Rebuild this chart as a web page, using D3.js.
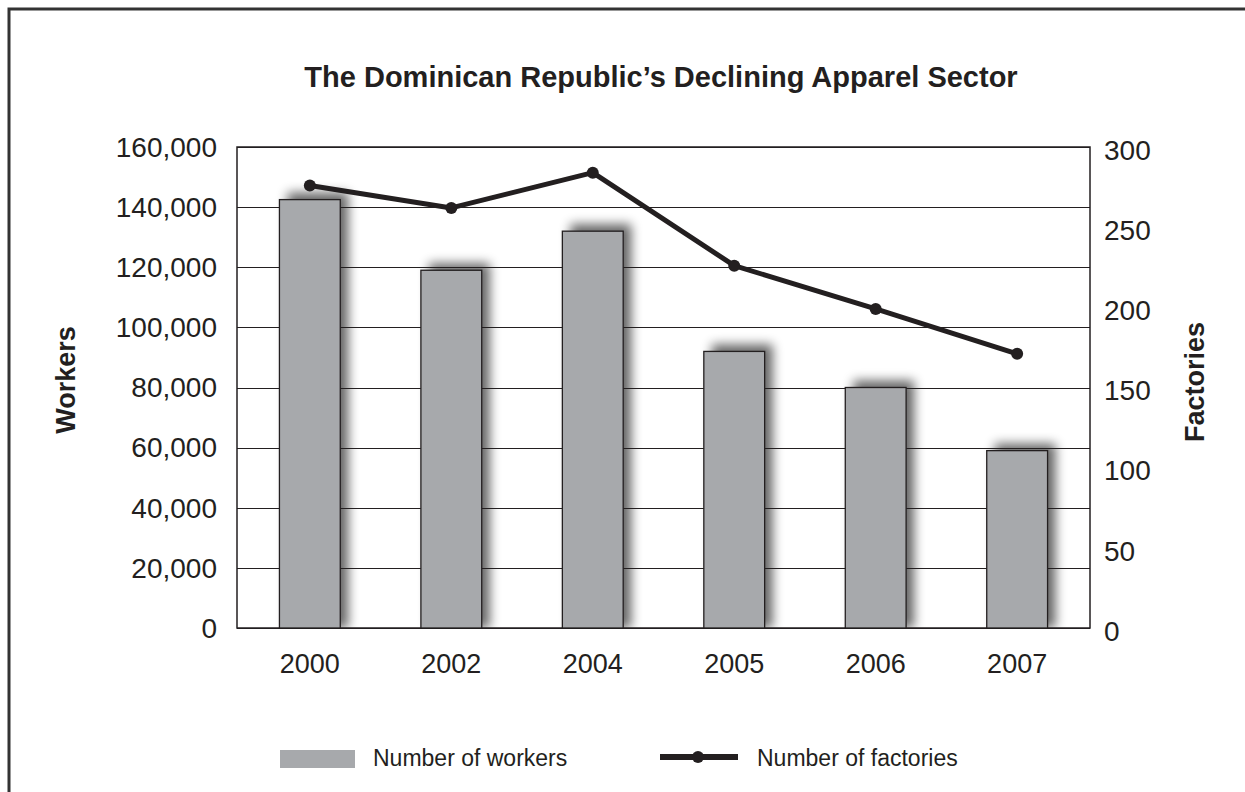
<!DOCTYPE html>
<html>
<head>
<meta charset="utf-8">
<script src="https://cdn.jsdelivr.net/npm/d3@7/dist/d3.min.js"></script>
<style>
  body { margin: 0; background: #fff; }
  text { font-family: "Liberation Sans", Arial, Helvetica, sans-serif; fill: #231f20; }
</style>
</head>
<body>
<div id="chart"></div>
<script>
//Width and height
var w = 1245;
var h = 792;

//Data
var years = ["2000", "2002", "2004", "2005", "2006", "2007"];
var workers = [142500, 119000, 132000, 92000, 80000, 59000];
var factories = [276, 262, 284, 226, 199, 171];
var workerTicks = [0, 20000, 40000, 60000, 80000, 100000, 120000, 140000, 160000];
var factoryTicks = [0, 50, 100, 150, 200, 250, 300];

var title = "The Dominican Republic\u2019s Declining Apparel Sector";

//Plot area
var plotLeft = 237, plotRight = 1090, plotTop = 147, plotBottom = 628;
var dark = "#231f20";
var barFill = "#a7a9ac";

var svg = d3.select("#chart")
    .append("svg")
    .attr("width", w)
    .attr("height", h);

//Scales
var x = d3.scaleBand()
    .domain(years)
    .range([plotLeft, plotRight])
    .paddingInner(0.57)
    .paddingOuter(0.3);

var y = d3.scaleLinear()
    .domain([0, 160000])
    .range([plotBottom, plotTop]);

var y2 = d3.scaleLinear()
    .domain([0, 300])
    .range([plotBottom, plotTop]);

//Shadow filter + clip
var defs = svg.append("defs");
var filter = defs.append("filter")
    .attr("id", "shadow")
    .attr("x", "-50%").attr("y", "-50%")
    .attr("width", "200%").attr("height", "200%");
filter.append("feGaussianBlur")
    .attr("in", "SourceGraphic")
    .attr("stdDeviation", 5.5);

defs.append("clipPath")
    .attr("id", "plotclip")
    .append("rect")
    .attr("x", plotLeft).attr("y", plotTop - 20)
    .attr("width", plotRight - plotLeft).attr("height", plotBottom - plotTop + 20);

//Outer frame (left and top edges only visible)
svg.append("path")
    .attr("d", "M9," + h + " L9,9 L" + w + ",9")
    .attr("fill", "none")
    .attr("stroke", "#333")
    .attr("stroke-width", 3);

//Title
svg.append("text")
    .attr("x", 661)
    .attr("y", 87)
    .attr("text-anchor", "middle")
    .style("font-size", "29px")
    .style("font-weight", "bold")
    .text(title);

//Bar shadows
svg.append("g")
    .attr("clip-path", "url(#plotclip)")
    .selectAll("rect")
    .data(workers)
    .enter()
    .append("rect")
    .attr("x", function(d, i) { return x(years[i]) + 8; })
    .attr("y", function(d) { return y(d) - 7; })
    .attr("width", x.bandwidth())
    .attr("height", function(d) { return plotBottom - y(d) + 7; })
    .attr("fill", "#000")
    .attr("opacity", 0.6)
    .attr("filter", "url(#shadow)");

//Gridlines
svg.append("g")
    .selectAll("line")
    .data(workerTicks)
    .enter()
    .append("line")
    .attr("x1", plotLeft)
    .attr("x2", plotRight)
    .attr("y1", function(d) { return Math.round(y(d)) + 0.5; })
    .attr("y2", function(d) { return Math.round(y(d)) + 0.5; })
    .attr("stroke", dark)
    .attr("stroke-width", 1.2);

//Plot frame
svg.append("rect")
    .attr("x", plotLeft)
    .attr("y", plotTop)
    .attr("width", plotRight - plotLeft)
    .attr("height", plotBottom - plotTop)
    .attr("fill", "none")
    .attr("stroke", dark)
    .attr("stroke-width", 1.5);

//Bars
svg.append("g")
    .selectAll("rect")
    .data(workers)
    .enter()
    .append("rect")
    .attr("x", function(d, i) { return x(years[i]); })
    .attr("y", function(d) { return y(d); })
    .attr("width", x.bandwidth())
    .attr("height", function(d) { return plotBottom - y(d); })
    .attr("fill", barFill)
    .attr("stroke", dark)
    .attr("stroke-width", 1.3);

//Factories line
var line = d3.line()
    .x(function(d, i) { return x(years[i]) + x.bandwidth() / 2; })
    .y(function(d) { return y2(d); });

svg.append("path")
    .datum(factories)
    .attr("d", line)
    .attr("fill", "none")
    .attr("stroke", dark)
    .attr("stroke-width", 5)
    .attr("stroke-linejoin", "round");

svg.append("g")
    .selectAll("circle")
    .data(factories)
    .enter()
    .append("circle")
    .attr("cx", function(d, i) { return x(years[i]) + x.bandwidth() / 2; })
    .attr("cy", function(d) { return y2(d); })
    .attr("r", 6)
    .attr("fill", dark);

//Left axis labels
svg.append("g")
    .selectAll("text")
    .data(workerTicks)
    .enter()
    .append("text")
    .attr("x", 217)
    .attr("y", function(d) { return y(d); })
    .attr("dy", "0.35em")
    .attr("text-anchor", "end")
    .style("font-size", "28px")
    .text(d3.format(","));

//Right axis labels
svg.append("g")
    .selectAll("text")
    .data(factoryTicks)
    .enter()
    .append("text")
    .attr("x", 1104)
    .attr("y", function(d) { return y2(d) + 3; })
    .attr("dy", "0.35em")
    .style("font-size", "28px")
    .text(function(d) { return d; });

//X labels
svg.append("g")
    .selectAll("text")
    .data(years)
    .enter()
    .append("text")
    .attr("x", function(d) { return x(d) + x.bandwidth() / 2; })
    .attr("y", 673)
    .attr("text-anchor", "middle")
    .style("font-size", "27px")
    .text(function(d) { return d; });

//Axis titles
svg.append("text")
    .attr("transform", "translate(75,380) rotate(-90)")
    .attr("text-anchor", "middle")
    .style("font-size", "27px")
    .style("font-weight", "bold")
    .text("Workers");

svg.append("text")
    .attr("transform", "translate(1204,382) rotate(-90)")
    .attr("text-anchor", "middle")
    .style("font-size", "27px")
    .style("font-weight", "bold")
    .text("Factories");

//Legend
var legend = svg.append("g");

legend.append("rect")
    .attr("x", 280)
    .attr("y", 750)
    .attr("width", 75)
    .attr("height", 18)
    .attr("fill", barFill);

legend.append("text")
    .attr("x", 373)
    .attr("y", 766)
    .style("font-size", "23px")
    .text("Number of workers");

legend.append("line")
    .attr("x1", 660)
    .attr("x2", 738)
    .attr("y1", 757)
    .attr("y2", 757)
    .attr("stroke", dark)
    .attr("stroke-width", 6);

legend.append("circle")
    .attr("cx", 698)
    .attr("cy", 757)
    .attr("r", 6)
    .attr("fill", dark);

legend.append("text")
    .attr("x", 757)
    .attr("y", 766)
    .style("font-size", "23px")
    .text("Number of factories");
</script>
</body>
</html>
